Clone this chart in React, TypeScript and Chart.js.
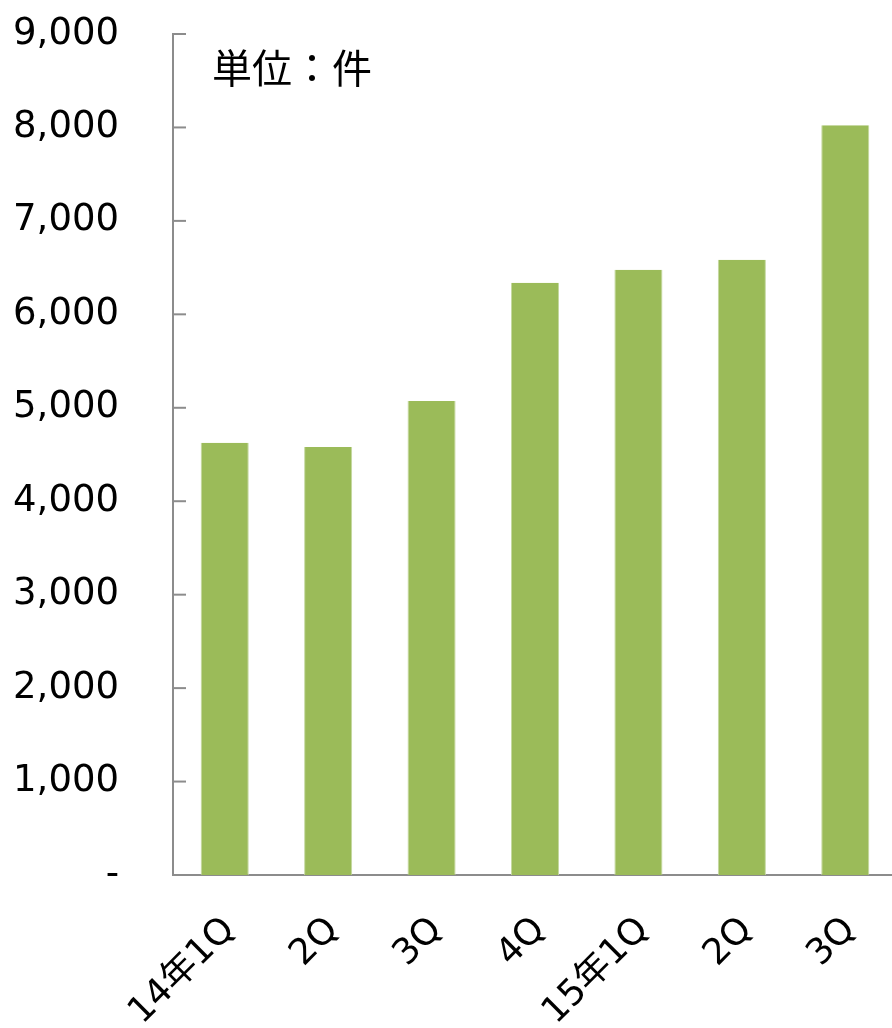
import React, { useEffect, useRef } from "react";
import { Chart, registerables } from "chart.js";

Chart.register(...registerables);

const categories = ["14年1Q", "2Q", "3Q", "4Q", "15年1Q", "2Q", "3Q"];
const counts = [4625, 4580, 5072, 6337, 6476, 6583, 8024];
const yTicks = [0, 1000, 2000, 3000, 4000, 5000, 6000, 7000, 8000, 9000];
const unitLabel = "単位：件";

const FONT = "'DejaVu Sans', 'Noto Sans CJK JP', sans-serif";

const innerTicks = {
  id: "innerTicks",
  afterDraw(chart: any) {
    const y = chart.scales.y;
    const ctx = chart.ctx;
    const x0 = chart.chartArea.left;
    ctx.save();
    ctx.strokeStyle = "#8c8c8c";
    ctx.lineWidth = 2;
    for (const v of yTicks) {
      const py = y.getPixelForValue(v);
      ctx.beginPath();
      ctx.moveTo(x0, py);
      ctx.lineTo(x0 + 13, py);
      ctx.stroke();
    }
    ctx.restore();
  },
};

export default function App() {
  const ref = useRef<HTMLCanvasElement>(null);
  useEffect(() => {
    if (!ref.current) return;
    const chart = new Chart(ref.current, {
      type: "bar",
      data: {
        labels: categories,
        datasets: [
          {
            data: counts,
            backgroundColor: "#9BBB59",
            borderColor: "#c4d89f",
            borderWidth: { left: 1, right: 1, top: 0, bottom: 0 },
            categoryPercentage: 1,
            barPercentage: 0.465,
          },
        ],
      },
      options: {
        animation: false,
        responsive: true,
        maintainAspectRatio: false,
        layout: { padding: { top: 34, left: 0, right: 3, bottom: 0 } },
        plugins: { legend: { display: false }, tooltip: { enabled: false } },
        scales: {
          x: {
            grid: { display: false },
            border: { display: true, color: "#8c8c8c", width: 2 },
            ticks: {
              color: "#000",
              font: { family: FONT, size: 36 },
              minRotation: 45,
              maxRotation: 45,
              padding: 26,
              labelOffset: 5,
              autoSkip: false,
            },
            afterFit(scale: any) {
              scale.height = 185;
              scale.paddingLeft = 0;
              scale.paddingRight = 0;
              scale.paddingTop = 0;
              scale.paddingBottom = 0;
            },
          },
          y: {
            min: 0,
            max: 9000,
            grid: { display: false },
            border: { display: true, color: "#8c8c8c", width: 2 },
            afterBuildTicks(scale: any) {
              scale.ticks = yTicks.map((v) => ({ value: v }));
            },
            ticks: {
              color: "#000",
              font: { family: FONT, size: 37 },
              padding: 46,
              callback: (v: any) => (Number(v) === 0 ? "-" : Number(v).toLocaleString("en-US")),
            },
            afterFit(scale: any) {
              scale.width = 173;
              scale.paddingLeft = 0;
              scale.paddingRight = 0;
              scale.paddingTop = 0;
              scale.paddingBottom = 0;
            },
          },
        },
      },
      plugins: [innerTicks],
    });
    return () => chart.destroy();
  }, []);

  return (
    <div style={{ position: "fixed", left: 0, top: 0, width: 892, height: 1028, overflow: "hidden", background: "#fff" }}>
      <div style={{ position: "absolute", left: 0, top: 0, width: 900, height: 1060 }}>
        <canvas ref={ref} />
      </div>
      <div
        style={{
          position: "absolute",
          left: 212,
          top: 46,
          fontFamily: "'Noto Sans CJK JP', sans-serif",
          fontSize: 40,
          lineHeight: "40px",
          color: "#000",
          whiteSpace: "nowrap",
        }}
      >
        {unitLabel}
      </div>
    </div>
  );
}
